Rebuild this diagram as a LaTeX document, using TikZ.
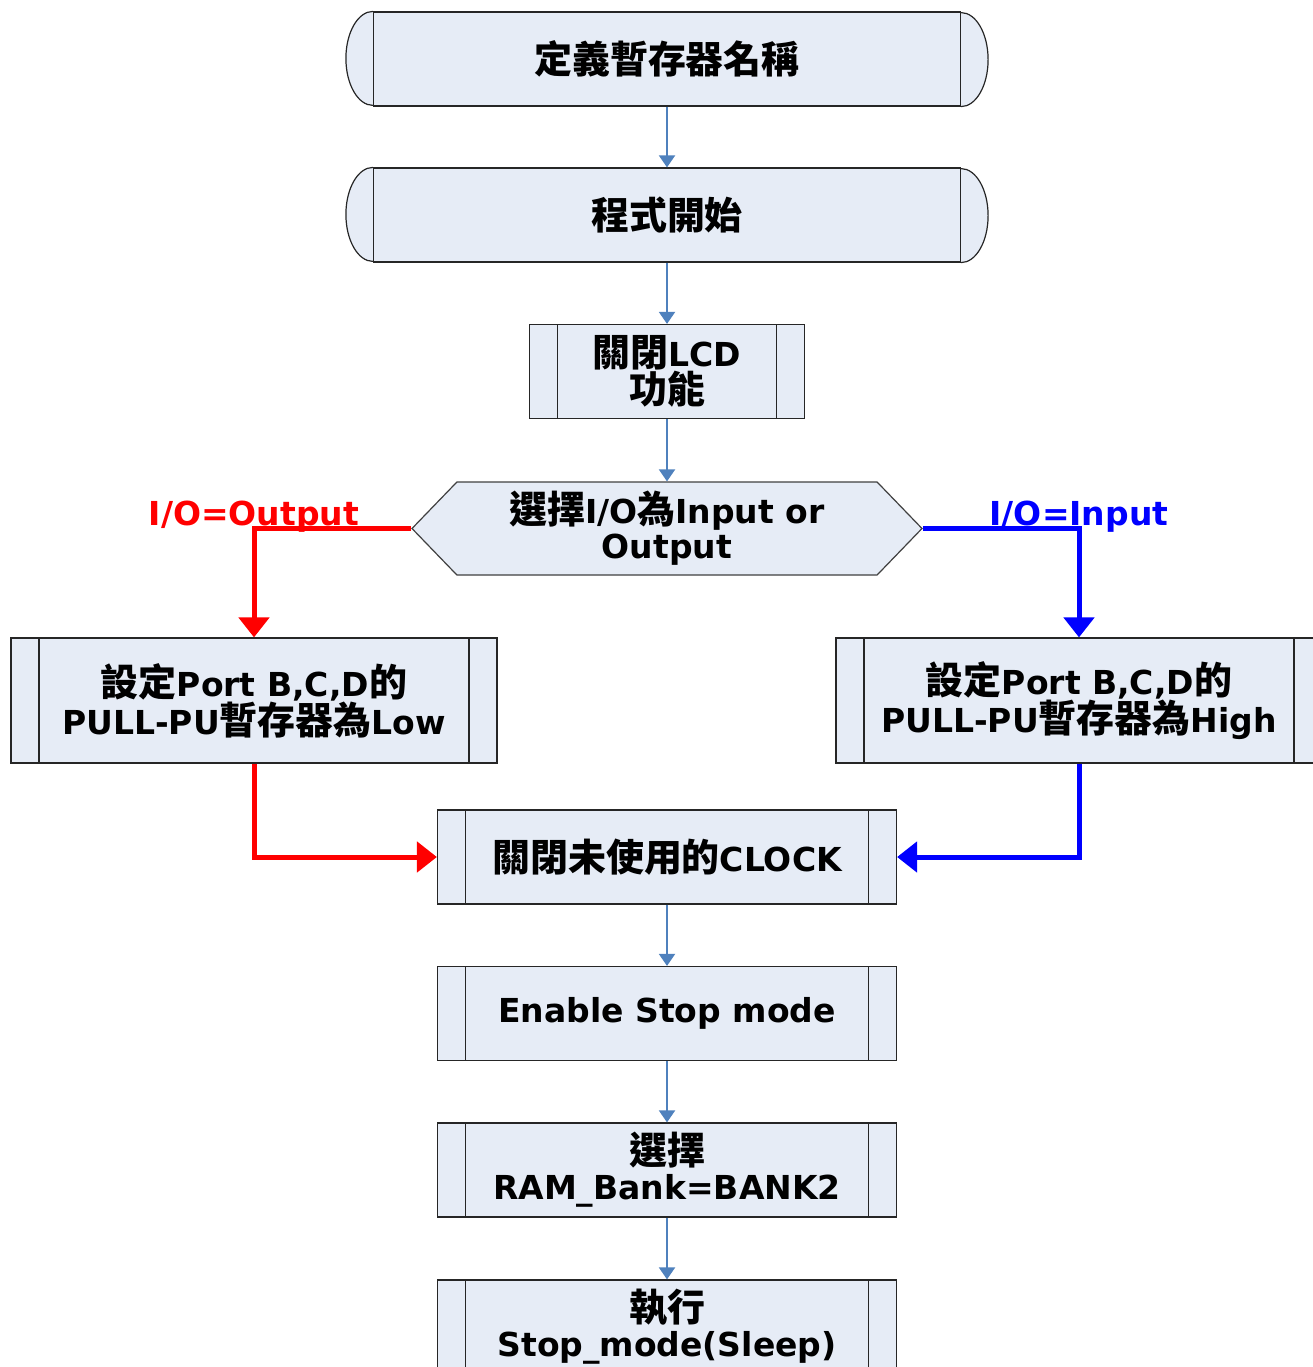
\documentclass[tikz,border=0pt]{standalone}
\usepackage{fontspec}
\setmainfont{DejaVu Sans}
\newfontfamily\cjkfont{Noto Sans CJK TC}[Scale=1.15]
\newcommand\zh[1]{{\cjkfont#1}}
\usetikzlibrary{arrows.meta,shapes.symbols}
\definecolor{boxfill}{RGB}{230,236,246}
\definecolor{flowblue}{RGB}{79,129,189}
\tikzset{
  every node/.style={font=\fontsize{33}{35}\selectfont\bfseries, align=center},
  bars/.style={path picture={
      \draw[black!85, line width=1.2pt]
        ([xshift=#1]path picture bounding box.north west) -- ([xshift=#1]path picture bounding box.south west)
        ([xshift=-#1]path picture bounding box.north east) -- ([xshift=-#1]path picture bounding box.south east);
  }},
  term/.style={rectangle, draw=black!85, fill=boxfill, line width=1.2pt,
    minimum width=587, minimum height=94, inner sep=0pt,
    append after command={\pgfextra{
      \filldraw[draw=black!85, fill=boxfill, line width=1.2pt]
        (\tikzlastnode.north west) arc[start angle=90, end angle=270, x radius=27pt, y radius=47pt]
        (\tikzlastnode.south east) arc[start angle=-90, end angle=90, x radius=27pt, y radius=47pt];
    }}},
  proc/.style={rectangle, draw=black!85, fill=boxfill, line width=1.2pt,
    minimum height=94, inner sep=0pt, bars=28},
  decide/.style={signal, signal to=west and east, signal pointer angle=92, draw=black!75,
    fill=boxfill, line width=1.2pt, minimum width=510, minimum height=93, inner sep=0pt},
  flow/.style={flowblue, line width=2pt, -{Triangle[width=16pt,length=12pt]}},
  lowpath/.style={red, line width=5pt, -{Triangle[width=30pt,length=20pt]}},
  highpath/.style={blue, line width=5pt, -{Triangle[width=30pt,length=20pt]}},
}

\begin{document}
\begin{tikzpicture}[x=1pt, y=-1pt]
    \useasboundingbox (0,0) rectangle (1313,1367);
    \clip (0,0) rectangle (1313,1367);
    \node[term] (defreg) at (667,59) {\zh{定義暫存器名稱}};
    \node[term] (start) at (667,215) {\zh{程式開始}};
    \node[proc, minimum width=275] (lcd) at (667,371.5) {\zh{關閉}LCD\\\zh{功能}};
    \node[decide] (sel) at (667,528.5) {\zh{選擇}I/O\zh{為}Input or\\Output};
    \node[proc, minimum width=486, minimum height=125] (low) at (254,700.5)
        {\zh{設定}Port B,C,D\zh{的}\\PULL-PU\zh{暫存器為}Low};
    \node[proc, minimum width=486, minimum height=125] (high) at (1079,700.5)
        {\zh{設定}Port B,C,D\zh{的}\\PULL-PU\zh{暫存器為}High};
    \node[proc, minimum width=459] (clk) at (667,857) {\zh{關閉未使用的}CLOCK};
    \node[proc, minimum width=459] (stop) at (667,1013.5) {Enable Stop mode};
    \node[proc, minimum width=459] (bank) at (667,1170) {\zh{選擇}\\RAM\_Bank=BANK2};
    \node[proc, minimum width=459] (exec) at (667,1327) {\zh{執行}\\Stop\_mode(Sleep)};

    % main line
    \draw[flow] (defreg.south) -- (start.north);
    \draw[flow] (start.south) -- (lcd.north);
    \draw[flow] (lcd.south) -- (sel.north);
    \draw[flow] (clk.south) -- (stop.north);
    \draw[flow] (stop.south) -- (bank.north);
    \draw[flow] (bank.south) -- (exec.north);

    % the two branches
    \draw[lowpath] (sel.west) -| (low.north);
    \draw[highpath] (sel.east) -| (high.north);
    \draw[lowpath] (low.south) |- (clk.west);
    \draw[highpath] (high.south) |- (clk.east);
    \node[red] (outlbl) at (254,517) {I/O=Output};
    \node[blue] (inlbl) at (1079,517) {I/O=Input};
\end{tikzpicture}
\end{document}
